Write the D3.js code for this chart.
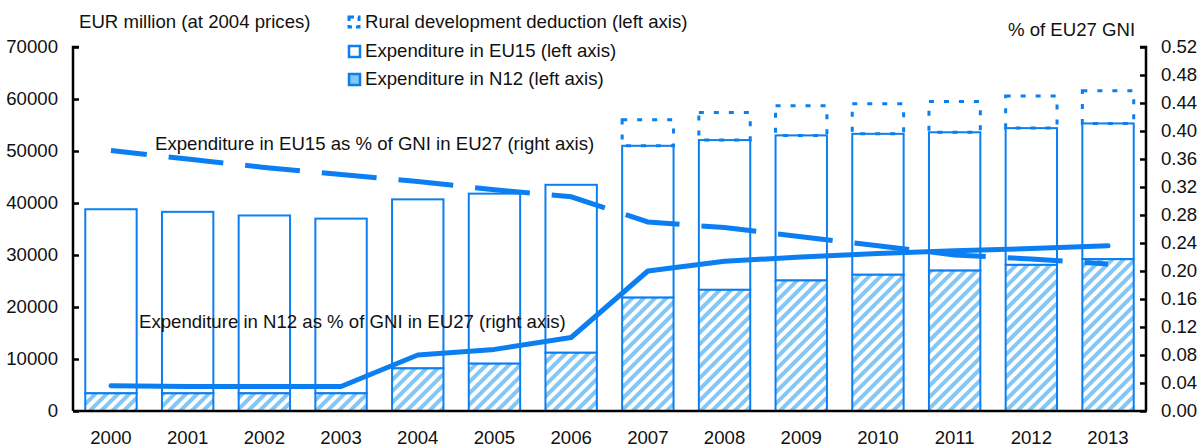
<!DOCTYPE html>
<html>
<head>
<meta charset="utf-8">
<script src="https://cdn.jsdelivr.net/npm/d3@7"></script>
<style>
  body { margin: 0; background: #fff; }
  svg text { font-family: "Liberation Sans", Arial, sans-serif; fill: #111; }
</style>
</head>
<body>
<svg id="chart" width="1204" height="448"></svg>
<script>
let years = ['2000','2001','2002','2003','2004','2005','2006','2007','2008','2009','2010','2011','2012','2013'];
// EUR million, 2004 prices
let n12 = [3400,3400,3400,3400,8200,9100,11200,21800,23300,25100,26200,27000,28100,29200];
let eu15 = [35400,34900,34200,33600,32500,32700,32300,29200,28800,27900,27100,26600,26300,26100];
let rural = [0,0,0,0,0,0,0,5000,5300,5700,5800,5900,6200,6300];
// % of EU27 GNI
let eu15Pct = [0.372,0.360,0.348,0.338,0.328,0.316,0.306,0.270,0.262,0.249,0.236,0.223,0.217,0.210];
let n12Pct = [0.036,0.035,0.035,0.035,0.080,0.088,0.105,0.200,0.214,0.220,0.225,0.229,0.232,0.236];
let leftTicks = [0,10000,20000,30000,40000,50000,60000,70000];
let rightTicks = [0,0.04,0.08,0.12,0.16,0.20,0.24,0.28,0.32,0.36,0.40,0.44,0.48,0.52];
let legendItems = ['Rural development deduction (left axis)', 'Expenditure in EU15 (left axis)', 'Expenditure in N12 (left axis)'];

let blue = '#0b7ff2';
let lightBlue = '#84c6f5';
let fs = '18.6px';

let svg = d3.select('#chart');
let mLeft = 73, mRight = 1146, mTop = 47, mBottom = 411;

let x = d3.scaleBand().domain(years).range([mLeft, mRight]).paddingInner(0.33).paddingOuter(0.16);
let y = d3.scaleLinear().domain([0, 70000]).range([mBottom, mTop]);
let y2 = d3.scaleLinear().domain([0, 0.52]).range([mBottom, mTop]);

// hatch pattern
let pat = svg.append('defs').append('pattern')
	.attr('id', 'hatch')
	.attr('patternUnits', 'userSpaceOnUse')
	.attr('width', 8).attr('height', 8)
	.attr('patternTransform', 'rotate(45)');
pat.append('rect').attr('width', 8).attr('height', 8).attr('fill', '#fff');
pat.append('rect').attr('width', 4).attr('height', 8).attr('fill', lightBlue);

let data = years.map((yr, i) => ({yr, n12: n12[i], eu15: eu15[i], rural: rural[i]}));

let bars = svg.append('g');
// EU15 on top of N12
bars.selectAll('rect.eu15').data(data).join('rect')
	.attr('x', d => x(d.yr)).attr('width', x.bandwidth())
	.attr('y', d => y(d.n12 + d.eu15))
	.attr('height', d => y(d.n12) - y(d.n12 + d.eu15))
	.attr('fill', '#fff').attr('stroke', blue).attr('stroke-width', 2);
// N12 hatched
bars.selectAll('rect.n12').data(data).join('rect')
	.attr('x', d => x(d.yr)).attr('width', x.bandwidth())
	.attr('y', d => y(d.n12))
	.attr('height', d => y(0) - y(d.n12))
	.attr('fill', 'url(#hatch)').attr('stroke', blue).attr('stroke-width', 2);
// rural development deduction, dashed box
bars.selectAll('rect.rural').data(data.filter(d => d.rural > 0)).join('rect')
	.attr('x', d => x(d.yr)).attr('width', x.bandwidth())
	.attr('y', d => y(d.n12 + d.eu15 + d.rural))
	.attr('height', d => y(d.n12 + d.eu15) - y(d.n12 + d.eu15 + d.rural))
	.attr('fill', 'none').attr('stroke', blue).attr('stroke-width', 3)
	.attr('stroke-dasharray', '5,10');

// lines
let line = d3.line()
	.x((d, i) => x(years[i]) + x.bandwidth() / 2)
	.y(d => y2(d));

svg.append('path').datum(eu15Pct)
	.attr('d', line)
	.attr('fill', 'none').attr('stroke', blue).attr('stroke-width', 5)
	.attr('stroke-dasharray', '55,22').attr('stroke-dashoffset', 19);

svg.append('path').datum(n12Pct)
	.attr('d', line)
	.attr('fill', 'none').attr('stroke', blue).attr('stroke-width', 5)
	.attr('stroke-linecap', 'round').attr('stroke-linejoin', 'round');

// axes
let yAxis = d3.axisRight(y).tickValues(leftTicks).tickSize(6).tickFormat(d3.format('d'));
let gL = svg.append('g').attr('transform', `translate(${mLeft},0)`).call(yAxis);
gL.select('.domain').attr('d', `M6,${mTop}H0V${mBottom}`).attr('stroke', '#000').attr('stroke-width', 2.5);
gL.selectAll('.tick line').attr('stroke', '#000').attr('stroke-width', 2.5);
gL.selectAll('.tick text').attr('x', -15).attr('text-anchor', 'end')
	.style('font-size', fs).attr('fill', '#111');

let y2Axis = d3.axisLeft(y2).tickValues(rightTicks).tickSize(6).tickFormat(d3.format('.2f'));
let gR = svg.append('g').attr('transform', `translate(${mRight},0)`).call(y2Axis);
gR.select('.domain').attr('d', `M-6,${mTop}H0V${mBottom}`).attr('stroke', '#000').attr('stroke-width', 2.5);
gR.selectAll('.tick line').attr('stroke', '#000').attr('stroke-width', 2.5);
gR.selectAll('.tick text').attr('x', 15).attr('text-anchor', 'start')
	.style('font-size', fs).attr('fill', '#111');

let xAxis = d3.axisBottom(x).tickSize(0);
let gX = svg.append('g').attr('transform', `translate(0,${mBottom})`).call(xAxis);
gX.select('.domain').attr('d', `M${mLeft},0H${mRight + 1}`).attr('stroke', '#000').attr('stroke-width', 2.5);
gX.selectAll('.tick text').attr('y', 20).style('font-size', fs).attr('fill', '#111');
svg.selectAll('.tick text').style('font-family', '"Liberation Sans", Arial, sans-serif');

// axis titles
svg.append('text').attr('x', 79).attr('y', 28).style('font-size', fs)
	.text('EUR million (at 2004 prices)');
svg.append('text').attr('x', 1008).attr('y', 36).style('font-size', fs)
	.text('% of EU27 GNI');

// annotations
svg.append('text').attr('x', 155).attr('y', 150).style('font-size', fs)
	.text('Expenditure in EU15 as % of GNI in EU27 (right axis)');
svg.append('text').attr('x', 139).attr('y', 328).style('font-size', fs)
	.text('Expenditure in N12 as % of GNI in EU27 (right axis)');

// legend
let lg = svg.append('g').attr('transform', 'translate(348,0)');
let ly = [22, 51, 79];
lg.append('rect').attr('x', 1).attr('y', ly[0] - 5).attr('width', 10).attr('height', 10)
	.attr('fill', 'none').attr('stroke', blue).attr('stroke-width', 3).attr('stroke-dasharray', '5,4');
lg.append('rect').attr('x', 1).attr('y', ly[1] - 5).attr('width', 11).attr('height', 11)
	.attr('fill', '#fff').attr('stroke', blue).attr('stroke-width', 2.5);
lg.append('rect').attr('x', 1).attr('y', ly[2] - 5).attr('width', 11).attr('height', 11)
	.attr('fill', lightBlue).attr('stroke', blue).attr('stroke-width', 2.5);
lg.selectAll('text.l').data(legendItems).join('text')
	.attr('x', 17).attr('y', (d, i) => ly[i] + 6)
	.style('font-size', fs)
	.text(d => d);
</script>
</body>
</html>
